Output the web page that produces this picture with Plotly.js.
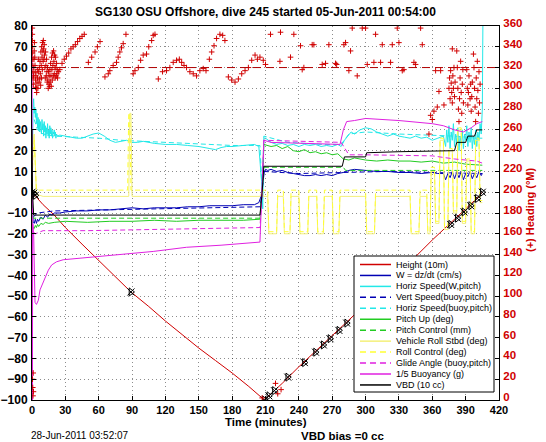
<!DOCTYPE html>
<html><head><meta charset="utf-8">
<script src="https://cdn.plot.ly/plotly-3.0.1.min.js"></script>
<style>body{margin:0;background:#fff}#c{width:546px;height:442px}</style>
</head><body><div id="c"></div><script>
// ---- data ----
const xTicks = [0,30,60,90,120,150,180,210,240,270,300,330,360,390,420];
const hgtT = [0,2,5,10,20,30,45,60,75,89,105,120,135,150,165,180,195,209,215,225,240,255,270,285,300,315,330,345,360,375,390,400,405];
const hgtV = [0,-1,-3,-6,-11,-17,-25,-33,-40.5,-48,-55,-62,-68.5,-75,-81,-87,-93.5,-100,-97,-92,-84,-76.5,-69,-61.5,-54,-46,-38.5,-31,-23,-15.5,-8,-3,0];
const hgtMarkT = [0,1.5,3,89,209,213,218,230,245,255,262,268,276,283,295,376.5,382.5,388.5,394.5,400.5,405];
const hgtMarkV = [0,-0.5,-1.5,-48,-100,-98,-95.5,-89,-82,-77,-73.5,-70.5,-66.5,-63,-57,-15.5,-12.5,-9.5,-6.5,-3,0];

const wT = [0,1,2,3,4,5,6,8,10,12,14,16,18,20,25,30,40,50,60,70,80,90,100,110,120,130,140,150,160,170,180,190,200,204,206,207,208,209,210,212,215,220,225,230,235,240,245,250,255,260,265,270,275,280,285,290,300,310,320,330,340,350,360,365,370,372,374,376,378,380,382,384,386,388,390,392,394,396,398,400,402,404,405];
const wV = [-2,-14,-15,-13,-15,-13,-14,-12,-13,-11,-12,-10.5,-11,-10,-10,-9.5,-9,-9,-8.5,-8.5,-8,-7.5,-8,-7.5,-7.5,-7.5,-7,-7,-6.5,-6.5,-6.5,-6,-6,-5,-2,2,8,10,11,10.5,11,10,10.5,9.5,9,8.5,8,8,8.5,8,8.5,8,9,9.5,10.5,11,10.5,10,10,9.5,9.5,9,9.5,9,9,6,9,7,10,6.5,9.5,7,10,6,9,7.5,10,6.5,9,7,10,8,9];
const vsT = [1,5,20,60,100,150,205,207,208.5,240,280,320,360,400,405];
const vsV = [-12,-10,-9,-8.5,-8,-7.5,-7,0,10,9,9.5,10,9.5,9,9];

const hsT = [0,0.5,1,1.5,2,2.5,3,3.5,4,4.5,5,5.5,6,6.5,7,7.5,8,8.5,9,9.5,10,10.5,11,11.5,12,12.5,13,13.5,14,14.5,15,15.5,16,16.5,17,17.5,18,18.5,19,19.5,20,20.5,21,21.5,22,23,25,30,35,40,45,50,55,60,65,70,75,80,85,90,95,100,110,120,130,140,150,160,165,170,175,180,190,200,204,206.5,207.5,208.5,210,215,220,225,230,235,240,245,250,255,260,265,270,275,278,281,284,287,290,295,300,305,310,315,320,325,330,335,340,345,350,355,360,365,370,372,373,374,375,376,377,378,379,380,381,382,383,384,385,386,387,388,389,390,391,392,393,394,395,396,397,398,399,400,401,402,403,404,405,405.5];
const hsV = [0,30,42,45,38,41,36,40,33,38,31,36,30,35,29,34,32,28,35,30,33,27,34,29,32,26,31,28,33,27,30,26,32,28,31,27,30,26,29,28,30,27,29,26,28,27,27.5,27,26.5,26,26,27,28,28.5,27,25,24,24.5,25,24,24,24.5,23.5,23,23,22.5,22,21,20.5,21.5,22,22,22.5,23,22,5,-8,26,26,24,23,23.5,22.5,23,22,23,22.5,23,22,22.5,22,23,22,25,27,29,28,30,31,30.5,29,28,27,28,27,26.5,26,27,26,26.5,25,26,27,22,30,24,32,21,29,25,33,22,28,24,31,20,27,23,30,21,28,25,32,22,29,24,31,21,27,23,30,22,29,25,33,28,40,80];
const hbT = [2,5,10,20,40,60,80,100,140,180,205,207,208.5,230,260,278,285,300,330,360,380,400,405];
const hbV = [35,30,28,27,26.5,26,25,24.5,23.5,22.5,22.5,0,27,24,23,23,28,29,28,27.5,27,26,26];

const pT = [0,0.5,1,2,3,4,5,6,8,10,12,15,20,30,50,70,90,110,130,150,170,190,205,207,208.5,215,220,225,230,235,240,245,250,255,260,265,270,275,280,285,290,300,310,320,330,340,350,360,370,380,390,400,405];
const pV = [0,-18,-17,-17.5,-16,-17,-15.5,-16.5,-15,-15.5,-14.5,-15,-14.5,-14,-14.5,-14,-14,-13.5,-14,-13.5,-13.5,-13.5,-13,0,23,22,22.5,21,22,20,19.5,20.5,19,19.5,18.5,19,18,18.5,16,15.5,16.5,15.5,15,15.5,15,15,14.5,15,14,14.5,13.5,13,13];
const pcT = [0,1,205,207,208.5,280,282,405];
const pcV = [0,-12.5,-12.5,0,12,12,10.5,10.5];

const rollT = [0,1,2,3,4,10,30,60,85,87,88,89,90,92,120,150,180,205,207,208,212,213,220,221,226,227,232,233,240,241,248,249,256,257,262,263,270,271,276,277,300,301,308,309,340,341,348,349,355,356,358,359,362,363,366,367,370,371,374,375,378,379,382,383,386,387,390,391,394,395,398,399,402,403,405];
const rollV = [0,25,28,10,-1,-2,-2,-2,-2,-2,38,38,-2,-2,-2,-2,-2,-2,0,-2,-2,-20,-20,-2,-2,-20,-20,-2,-2,-20,-20,-2,-2,-20,-20,-2,-2,-20,-20,-2,-2,-20,-20,-2,-2,-20,-20,-2,-2,-20,-20,10,10,-15,-15,25,25,-18,-18,20,20,-10,-10,30,30,-15,-15,15,15,-20,-20,25,25,-5,-5];
const rcT = [0,1,2,3,4,86,87,88,89,205,207,208,212,213,220,221,226,227,232,233,240,241,248,249,256,257,262,263,270,271,276,277,300,301,308,309,340,341,348,349,355,356,358,359,362,363,366,367,370,371,374,375,378,379,382,383,386,387,390,391,394,395,398,399,402,403,405];
const rcV = [0,20,25,8,1,1,38,38,1,1,0,1,1,-19,-19,1,1,-19,-19,1,1,-19,-19,1,1,-19,-19,1,1,-19,-19,1,1,-19,-19,1,1,-19,-19,1,1,-19,-19,12,12,-14,-14,26,26,-17,-17,21,21,-9,-9,31,31,-14,-14,16,16,-19,-19,26,26,-4,-4];

const gaT = [0,1,3,10,50,100,150,205,207,208.5,278,285,300,360,380,400,405];
const gaV = [0,-19,-20,-18.5,-18.5,-18,-17.5,-17,0,25,24,18,18,17.5,16,15,14];
const buT = [0,0.3,0.6,1.5,2.7,4,5.7,7.2,8.7,11.7,14.7,17.7,22,28,49,79,109,139,170,205,207,208.5,215,240,260,277,280,283,290,300,330,360,370,380,388,395,400,405];
const buV = [120,-120,-15,-20,-53,-54,-52,-47,-45,-41,-37.5,-35,-33.5,-32.5,-31.5,-30,-28.5,-26.5,-25.5,-24,0,25,24,23.5,23,23,30,34,34.5,35.5,34.5,33,32,30,29,31,33,34];
const vbdT = [0,0.5,1.5,205,207,208.5,279,281,300,301,330,360,380,382,390,392,398,400,405];
const vbdV = [30,0,-11,-11,0,12.5,12.5,17,17,19,19.5,20,20,24,24,27,27,30,30];

const hdT = [0.3,0.3,0.4,0.5,0.6,0.7,0.8,0.9,1.0,1.2,1.4,1.6,1.8,2.0,2.2,2.5,2.7,2.9,3.1,3.3,3.6,3.9,4.2,4.5,4.8,5.0,5.3,5.7,6.0,6.3,6.6,7.0,7.2,7.5,7.8,8.0,8.3,8.6,8.7,9.0,9.3,9.5,9.8,10.0,10.2,10.5,10.8,11.0,11.3,11.6,11.9,12.2,12.5,12.8,13.1,13.4,13.7,14.0,14.3,14.6,14.9,15.2,15.5,15.8,16.1,16.4,16.7,17.0,17.3,17.6,17.9,18.2,18.5,18.8,19.1,19.4,19.7,20.0,20.3,20.6,20.9,21.2,21.5,21.8,22.1,22.4,22.7,23.0,23.7,
25,27,29,31,33,35,37,39,41,43,45,47,50.7,53.7,56.7,58.8,61.2,65.6,68.6,70,73,76,77.5,79,80.5,82,84.5,91,92.6,95.6,97.7,100,103,105,107.6,109,110.6,113.6,117.4,121,124,127,130,132.5,134.6,136.7,139,142,145,148,151,154,156.5,159.5,161.6,163.7,166,169,171.5,173.5,176.6,179.6,182.6,185.6,188.6,191.6,194.6,197.6,200.6,202.7,205,208,
210,214.5,223.5,235.5,223,232.5,241.5,243,244.5,252,253.5,261,264,267,273,274,280.5,282,285,286.5,288,292.5,297,300,301.5,307.5,309,313.5,315,322.5,324,328.5,330,333,334.5,343.5,345,349.5,351,363,366,364.5,370.5,358.5,360,357,361.5,367.5,376.5,379.5,378,
375,375.5,376,377,377.5,378,378.5,379,380,380.5,382,382.5,383,383.5,384,384.5,385,385.5,386,386.5,387,387.5,388,391,391.5,392,392.5,393,394,394.5,395,395.5,396,397,397.5,398,398.5,399,399.5,400,400.5,401,401.5,402,402.5,403,
0.5,0.7,0.9,1.1,1.3,207,219,221,224];
const hdH = [358,352,346,340,334,328,322,316,310,304,312,320,328,336,344,330,322,315,308,301,312,300,296,305,318,310,300,328,316,306,320,309,326,314,303,335,322,310,340,330,318,344,336,326,346,338,328,342,332,320,310,335,322,312,328,316,306,320,308,300,316,304,312,302,318,306,324,312,302,330,318,308,334,322,312,336,326,314,332,320,310,330,320,312,324,314,318,310,316,
318,324,328,331,334,338,340,342,345,348,350,352,325,330,335,340,345,311,314,317,322,325,330,335,339,343,352,314,317,320,327,332,333,340,346,351,352,309,316,317,320,325,327,328,325,322,320,316,314,312,317,319,317,328,335,341,348,352,351,346,311,308,306,309,314,317,320,327,332,328,330,327,
323,352,354,352,326,330,341,318,320,342,342,323,324,342,324,323,342,344,317,336,358,312,358,358,323,325,352,325,342,325,342,358,344,317,318,325,323,358,342,317,297,282,284,274,270,256,278,317,317,320,338,
300,310,290,305,296,286,312,300,292,306,336,320,300,280,268,290,310,326,296,276,304,318,286,318,300,284,296,312,290,304,278,292,306,333,320,300,282,268,310,290,326,298,276,316,286,304,
20,12,4,26,8,2,16,6,10];

// ---- layout geometry ----
const W = 546, H = 442, L = 32, R = 47, T = 26, B = 42;
const PW = W - L - R, PH = H - T - B;
const fx = px => (px - L) / PW;
const fy = py => (H - B - py) / PH;
const FONT = 'Liberation Sans, Arial, Helvetica, sans-serif';

const DASH = '5px,3px';
function ln(x, y, color, dash, name) {
  return {x, y, type: 'scatter', mode: 'lines', name, line: {color, width: 1, dash: dash ? DASH : 'solid'}, hoverinfo: 'skip', showlegend: false};
}
const C = {
  red: '#d00000', blue: '#0000b4', cyan: '#22e8e8', green: '#22cc22', yellow: '#ffff33', yellowPale: '#f4f07a', mag: '#e020e0', black: '#000000'
};

const traces = [
  {x: hdT, y: hdH, yaxis: 'y2', type: 'scatter', mode: 'markers', marker: {symbol: 'cross-thin-open', size: 4, color: C.red, line: {color: C.red, width: 1}}, showlegend: false, hoverinfo: 'skip'},
  {x: [0, 420], y: [320, 320], yaxis: 'y2', type: 'scatter', mode: 'lines', line: {color: '#b00000', width: 1, dash: '8px,5px'}, showlegend: false, hoverinfo: 'skip'},
  ln(hgtT, hgtV, C.red, false, 'Height (10m)'),
  ln(wT, wV, C.blue, false, 'W = dz/dt (cm/s)'),
  ln(hsT, hsV, C.cyan, false, 'Horiz Speed(W,pitch)'),
  ln(vsT, vsV, C.blue, true, 'Vert Speed(buoy,pitch)'),
  ln(hbT, hbV, C.cyan, true, 'Horiz Speed(buoy,pitch)'),
  ln(pT, pV, C.green, false, 'Pitch Up (deg)'),
  ln(pcT, pcV, C.green, true, 'Pitch Control (mm)'),
  ln(rollT, rollV, C.yellowPale, false, 'Vehicle Roll Stbd (deg)'),
  ln(rcT, rcV, C.yellow, true, 'Roll Control (deg)'),
  ln(gaT, gaV, C.mag, true, 'Glide Angle (buoy,pitch)'),
  ln(buT, buV, C.mag, false, '1/5 Buoyancy (g)'),
  ln(vbdT, vbdV, C.black, false, 'VBD (10 cc)'),
  {x: hgtMarkT, y: hgtMarkV, type: 'scatter', mode: 'markers', marker: {symbol: 'x-thin-open', size: 7, color: '#000', line: {color: '#000', width: 1}}, showlegend: false, hoverinfo: 'skip'},
  {x: hgtMarkT, y: hgtMarkV, type: 'scatter', mode: 'markers', marker: {symbol: 'triangle-right-open', size: 7, color: '#000', line: {color: '#000', width: 1}}, showlegend: false, hoverinfo: 'skip'}
];

// ---- manual legend ----
const legendItems = [
  ['Height (10m)', C.red, false],
  ['W = dz/dt (cm/s)', C.blue, false],
  ['Horiz Speed(W,pitch)', C.cyan, false],
  ['Vert Speed(buoy,pitch)', C.blue, true],
  ['Horiz Speed(buoy,pitch)', C.cyan, true],
  ['Pitch Up (deg)', C.green, false],
  ['Pitch Control (mm)', C.green, true],
  ['Vehicle Roll Stbd (deg)', C.yellowPale, false],
  ['Roll Control (deg)', C.yellow, true],
  ['Glide Angle (buoy,pitch)', C.mag, true],
  ['1/5 Buoyancy (g)', C.mag, false],
  ['VBD (10 cc)', C.black, false]
];
const shapes = [
  {type: 'rect', xref: 'paper', yref: 'paper', x0: fx(354), x1: fx(494), y0: fy(392), y1: fy(256), fillcolor: '#fff', line: {color: '#000', width: 1}, layer: 'above'}
];
const annotations = [];
legendItems.forEach((it, i) => {
  const py = 264.5 + i * 10.95;
  shapes.push({type: 'line', xref: 'paper', yref: 'paper', x0: fx(360), x1: fx(391), y0: fy(py), y1: fy(py), line: {color: it[1], width: 1.5, dash: it[2] ? '6px,4px' : 'solid'}, layer: 'above'});
  annotations.push({xref: 'paper', yref: 'paper', x: fx(394), y: fy(py), xanchor: 'left', yanchor: 'middle', showarrow: false, text: it[0], font: {family: FONT, size: 9, color: '#000'}});
});
annotations.push({xref: 'paper', yref: 'paper', x: fx(265.5), y: fy(422), xanchor: 'center', yanchor: 'middle', showarrow: false, borderpad: 0, text: 'Time (minutes)', font: {family: FONT, size: 11.5, color: '#000', weight: 'bold'}});
annotations.push({xref: 'paper', yref: 'paper', x: fx(30), y: fy(435.5), xanchor: 'left', yanchor: 'middle', showarrow: false, borderpad: 0, text: '28-Jun-2011 03:52:07', font: {family: FONT, size: 10, color: '#000'}});
annotations.push({xref: 'paper', yref: 'paper', x: fx(342), y: fy(435.5), xanchor: 'center', yanchor: 'middle', showarrow: false, borderpad: 0, text: 'VBD bias =0 cc', font: {family: FONT, size: 11.5, color: '#000', weight: 'bold'}});
annotations.push({xref: 'paper', yref: 'paper', x: fx(530), y: fy(210), xanchor: 'center', yanchor: 'middle', showarrow: false, textangle: -90, text: '(+) Heading (°M)', font: {family: FONT, size: 11, color: C.red, weight: 'bold'}});

const grid = {showgrid: true, gridcolor: 'rgba(0,0,0,0.45)', griddash: '1px,3px', gridwidth: 1};
const layout = {
  width: W, height: H,
  margin: {l: L, r: R, t: T, b: B, pad: 0},
  paper_bgcolor: '#fff', plot_bgcolor: '#fff',
  font: {family: FONT, color: '#000'},
  title: {text: 'SG130 OSU Offshore, dive 245 started 05-Jun-2011 00:54:00', font: {family: FONT, size: 12, weight: 'bold'}, xref: 'paper', x: 0.5, xanchor: 'center', yref: 'container', y: 1 - 12 / H, yanchor: 'middle'},
  xaxis: Object.assign({range: [0, 420], tickvals: xTicks, ticktext: xTicks.map(String), ticks: 'inside', ticklen: 4, tickcolor: '#000', showline: true, linecolor: '#000', linewidth: 1, mirror: true, zeroline: false,
    tickfont: {family: FONT, size: 11, weight: 'bold'}, ticklabelstandoff: 0}, grid),
  yaxis: Object.assign({range: [-100, 80], dtick: 10, tick0: 0, ticks: 'inside', ticklen: 4, tickcolor: '#000', showline: true, linecolor: '#000', linewidth: 1, mirror: true, zeroline: false,
    tickfont: {family: FONT, size: 12, weight: 'bold'}, ticklabelstandoff: 1}, grid),
  yaxis2: {overlaying: 'y', side: 'right', range: [0, 360], dtick: 20, tick0: 0, ticks: 'inside', ticklen: 4, tickcolor: '#000', showline: true, linecolor: '#000', showgrid: false, zeroline: false,
    tickfont: {family: FONT, size: 11.5, color: C.red, weight: 'bold'}, ticklabelstandoff: 1, ticklabelshift: -3},
  shapes, annotations, showlegend: false
};
Plotly.newPlot('c', traces, layout, {displayModeBar: false, staticPlot: true});
</script></body></html>
